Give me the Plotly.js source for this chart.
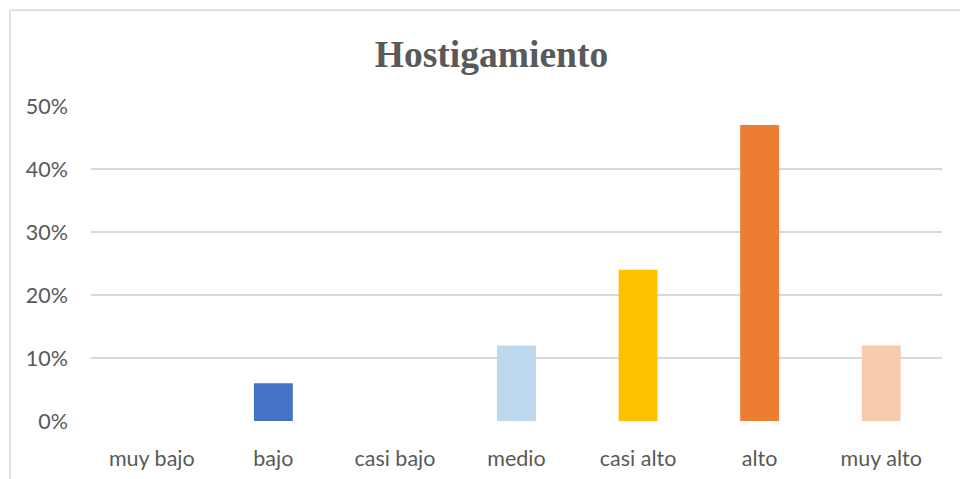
<!DOCTYPE html>
<html>
<head>
<meta charset="utf-8">
<script src="https://cdn.plot.ly/plotly-3.0.1.min.js"></script>
<style>html,body{margin:0;padding:0;background:#fff}#chart{width:960px;height:479px}</style>
</head>
<body>
<div id="chart"></div>
<script>
const categories = ["muy bajo", "bajo", "casi bajo", "medio", "casi alto", "alto", "muy alto"];
const values = [0, 0.06, 0, 0.12, 0.24, 0.47, 0.12];
const barColors = ["#5B9BD5", "#4472C4", "#A5A5A5", "#BDD7EE", "#FFC000", "#ED7D31", "#F8CBAD"];
const tickValues = [0, 0.1, 0.2, 0.3, 0.4, 0.5];
const tickLabels = ["0%", "10%", "20%", "30%", "40%", "50%"];
const chartTitle = "Hostigamiento";

const labelFont = {family: "Lato, 'Open Sans', sans-serif", size: 21.5, color: "#595959"};

Plotly.newPlot("chart", [{
  type: "bar",
  x: categories,
  y: values,
  marker: {color: barColors, line: {width: 0}},
  hoverinfo: "x+y"
}], {
  width: 960,
  height: 479,
  paper_bgcolor: "#ffffff",
  plot_bgcolor: "#ffffff",
  margin: {l: 91, r: 18, t: 106, b: 57.5, pad: 0},
  bargap: 0.68,
  showlegend: false,
  title: {
    text: "<b>" + chartTitle + "</b>",
    font: {family: "'Liberation Serif', 'Times New Roman', serif", size: 37.5, color: "#595959"},
    x: 0.512, xanchor: "center", xref: "container",
    y: 0.887, yanchor: "middle", yref: "container"
  },
  xaxis: {
    type: "category",
    showgrid: false,
    showline: false,
    zeroline: false,
    ticks: "",
    ticklabelstandoff: 22,
    tickfont: labelFont
  },
  yaxis: {
    range: [0, 0.5],
    tickvals: tickValues,
    ticktext: tickLabels,
    showgrid: true,
    gridcolor: "#d9d9d9",
    gridwidth: 1.5,
    zeroline: false,
    showline: false,
    ticks: "",
    ticklabelstandoff: 22,
    tickfont: labelFont
  },
  shapes: [{
    type: "path",
    xref: "paper", yref: "paper",
    path: "M -0.0952,-0.3 L -0.0952,1.304 L 1.2,1.304",
    line: {color: "#d9d9d9", width: 1.5}
  }]
}, {displayModeBar: false, staticPlot: true});
</script>
</body>
</html>
